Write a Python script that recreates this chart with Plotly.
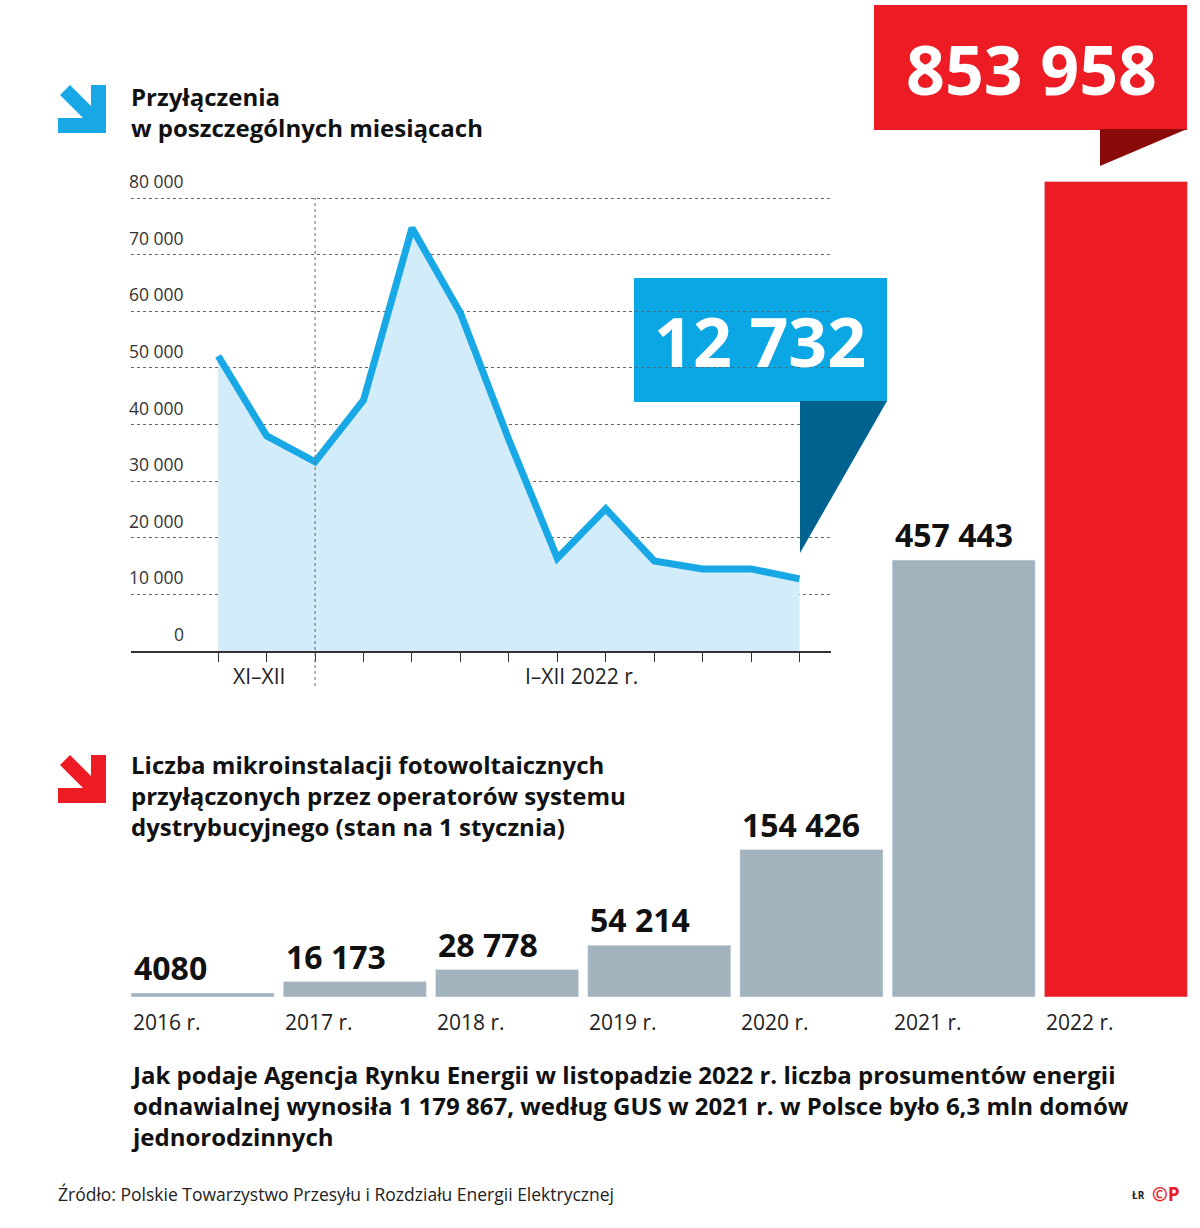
import plotly.graph_objects as go

W, H = 1200, 1228

# monthly connections (XI 2021 .. XI 2022)
months = list(range(13))
monthly = [52100, 38000, 33400, 44300, 74700, 59700, 37300, 16400, 25100, 15900, 14500, 14500, 12732]
month_groups = ["XI–XII", "I–XII 2022 r."]
y_ticks = [0, 10000, 20000, 30000, 40000, 50000, 60000, 70000, 80000]

# cumulative micro-installations (as of 1 January)
years = ["2016 r.", "2017 r.", "2018 r.", "2019 r.", "2020 r.", "2021 r.", "2022 r."]
totals = [4080, 16173, 28778, 54214, 154426, 457443, 853958]
total_labels = ["4080", "16 173", "28 778", "54 214", "154 426", "457 443", "853 958"]

FONT = "Open Sans"
BLUE = "#19a8e6"
RED = "#ed1c24"
GRAY = "#a3b3bd"


def px(x, y):
    return x / W, 1 - y / H


def path(points):
    pts = [px(x, y) for x, y in points]
    return "M " + " L ".join(f"{a:.5f},{b:.5f}" for a, b in pts) + " Z"


fig = go.Figure()

fig.add_trace(go.Scatter(
    x=months, y=monthly, mode="lines", fill="tozeroy",
    fillcolor="#d3ecf9", line=dict(color=BLUE, width=7),
    xaxis="x", yaxis="y", hoverinfo="skip"))

fig.add_trace(go.Bar(
    x=years, y=totals, marker_color=[GRAY] * 6 + [RED],
    xaxis="x2", yaxis="y2", hoverinfo="skip"))

fig.update_layout(
    width=W, height=H, margin=dict(l=0, r=0, t=0, b=0),
    paper_bgcolor="white", plot_bgcolor="rgba(0,0,0,0)",
    showlegend=False, bargap=0.06,
    font=dict(family=FONT, color="#1a1a1a"),
    xaxis=dict(domain=[131 / W, 831 / W], range=[-1.8, 12.65],
               tickvals=months, showticklabels=False, ticks="outside",
               ticklen=9, tickcolor="#333", showgrid=False, zeroline=False,
               showline=True, linecolor="#333", linewidth=1.5),
    yaxis=dict(domain=[1 - 651 / H, 1 - 195.2 / H], range=[0, 80500],
               tickvals=y_ticks, showticklabels=False, showgrid=True,
               gridcolor="#666", griddash="dot", gridwidth=1, zeroline=False),
    xaxis2=dict(domain=[126.5 / W, 1192 / W], showticklabels=False,
                showgrid=False, zeroline=False, showline=False),
    yaxis2=dict(domain=[1 - 997 / H, 1 - 5 / H], range=[0, 1038700],
                showticklabels=False, showgrid=False, zeroline=False),
)

ann = []
shapes = []

# y tick labels above gridlines
for v in y_ticks:
    ann.append(dict(xref="paper", yref="y", x=186 / W, y=v, yshift=3,
                    text=f"{v:,}".replace(",", " ") if v else "0",
                    showarrow=False, xanchor="right", yanchor="bottom",
                    font=dict(size=17.5, color="#333")))

# month group labels and separator
ann.append(dict(xref="x", yref="paper", x=0.85, y=1 - 676 / H, text=month_groups[0],
                showarrow=False, xanchor="center", yanchor="middle",
                font=dict(size=21, color="#222")))
ann.append(dict(xref="x", yref="paper", x=7.5, y=1 - 676 / H, text=month_groups[1],
                showarrow=False, xanchor="center", yanchor="middle",
                font=dict(size=21, color="#222")))
shapes.append(dict(type="line", xref="x", yref="paper", x0=2, x1=2,
                   y0=1 - 686 / H, y1=1 - 198 / H,
                   line=dict(color="#666", width=1, dash="dot")))

# blue callout
shapes.append(dict(type="rect", xref="paper", yref="paper", layer="below",
                   x0=634 / W, x1=887 / W, y0=1 - 402 / H, y1=1 - 278 / H,
                   fillcolor="#0ba6e4", line_width=0))
shapes.append(dict(type="path", xref="paper", yref="paper",
                   path=path([(800, 401), (887, 401), (800, 553)]),
                   fillcolor="#00628f", line_width=0))
ann.append(dict(xref="paper", yref="paper", x=760 / W, y=1 - 340 / H,
                text="<b>12 732</b>", showarrow=False,
                xanchor="center", yanchor="middle",
                font=dict(size=68, color="white")))

# red callout
shapes.append(dict(type="rect", xref="paper", yref="paper", layer="below",
                   x0=874 / W, x1=1187 / W, y0=1 - 130 / H, y1=1 - 5 / H,
                   fillcolor=RED, line_width=0))
shapes.append(dict(type="path", xref="paper", yref="paper",
                   path=path([(1100, 129), (1187, 129), (1100, 166)]),
                   fillcolor="#8a0a0a", line_width=0))
ann.append(dict(xref="paper", yref="paper", x=1031 / W, y=1 - 68 / H,
                text="<b>853 958</b>", showarrow=False,
                xanchor="center", yanchor="middle",
                font=dict(size=68, color="white")))

# bar value labels and year labels
for i, (yr, v, lab) in enumerate(zip(years, totals, total_labels)):
    if i < 6:
        ann.append(dict(xref="x2", yref="y2", x=yr, y=v, xshift=-71, yshift=2,
                        text=f"<b>{lab}</b>", showarrow=False,
                        xanchor="left", yanchor="bottom",
                        font=dict(size=32, color="#111")))
    ann.append(dict(xref="x2", yref="paper", x=yr, y=1 - 1022 / H, xshift=-72,
                    text=yr, showarrow=False, xanchor="left", yanchor="middle",
                    font=dict(size=21, color="#222")))

# arrows
for top, col in [(85, BLUE), (755, RED)]:
    shapes.append(dict(type="path", xref="paper", yref="paper",
                       path=path([(58, top + 33), (91, top + 33), (91, top),
                                  (106, top), (106, top + 48), (58, top + 48)]),
                       fillcolor=col, line_width=0))
    shapes.append(dict(type="path", xref="paper", yref="paper",
                       path=path([(60, top + 10), (70, top), (102, top + 32), (92, top + 42)]),
                       fillcolor=col, line_width=0))

# titles
ann.append(dict(xref="paper", yref="paper", x=129 / W, y=1 - 78 / H,
                text="<b>Przyłączenia<br>w poszczególnych miesiącach</b>",
                showarrow=False, xanchor="left", yanchor="top", align="left",
                font=dict(size=24, color="#111")))
ann.append(dict(xref="paper", yref="paper", x=129 / W, y=1 - 746 / H,
                text="<b>Liczba mikroinstalacji fotowoltaicznych<br>"
                     "przyłączonych przez operatorów systemu<br>"
                     "dystrybucyjnego (stan na 1 stycznia)</b>",
                showarrow=False, xanchor="left", yanchor="top", align="left",
                font=dict(size=24, color="#111")))
ann.append(dict(xref="paper", yref="paper", x=129 / W, y=1 - 1056 / H,
                text="<b>Jak podaje Agencja Rynku Energii w listopadzie 2022 r. liczba prosumentów energii<br>"
                     "odnawialnej wynosiła 1 179 867, według GUS w 2021 r. w Polsce było 6,3 mln domów<br>"
                     "jednorodzinnych</b>",
                showarrow=False, xanchor="left", yanchor="top", align="left",
                font=dict(size=24, color="#111")))
ann.append(dict(xref="paper", yref="paper", x=56 / W, y=1 - 1194 / H,
                text="Źródło: Polskie Towarzystwo Przesyłu i Rozdziału Energii Elektrycznej",
                showarrow=False, xanchor="left", yanchor="middle",
                font=dict(size=17.5, color="#222")))
ann.append(dict(xref="paper", yref="paper", x=1147 / W, y=1 - 1195 / H,
                text="<b>ŁR</b>", showarrow=False, xanchor="right", yanchor="middle",
                font=dict(size=10, color="#222")))
ann.append(dict(xref="paper", yref="paper", x=1150 / W, y=1 - 1194 / H,
                text="<b>©P</b>", showarrow=False, xanchor="left", yanchor="middle",
                font=dict(size=19, color=RED)))

fig.update_layout(annotations=ann, shapes=shapes)
fig.write_html("out.html", config={"displayModeBar": False},
               post_script="document.body.style.margin='0';")
